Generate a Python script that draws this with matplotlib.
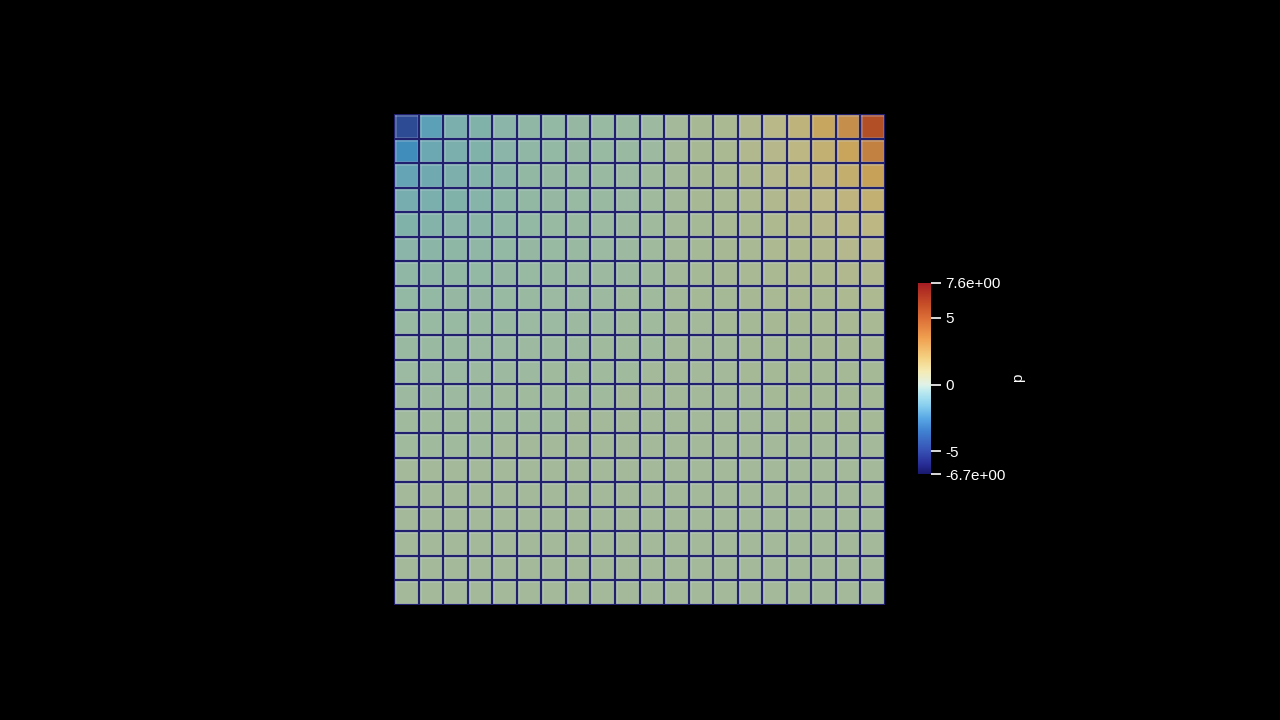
import numpy as np
import matplotlib
matplotlib.use("Agg")
import matplotlib.pyplot as plt
from matplotlib.colors import LinearSegmentedColormap, Normalize

# pressure range shown on the bar
P_MIN = -6.7
P_MAX = 7.6

# pressure per cell, top row first (20 x 20)
p_rows = [
    [-5.5, -2.6, -1.6, -1.3, -1.0, -0.7, -0.5, -0.4, -0.3, -0.2, 0.0, 0.2, 0.4, 0.6, 0.9, 1.3, 1.9, 2.8, 4.3, 7.0],
    [-3.6, -2.1, -1.6, -1.3, -1.0, -0.7, -0.5, -0.4, -0.3, -0.2, 0.0, 0.2, 0.4, 0.6, 0.9, 1.2, 1.6, 2.2, 3.0, 5.0],
    [-2.3, -1.9, -1.5, -1.2, -0.9, -0.6, -0.4, -0.3, -0.2, -0.1, 0.1, 0.2, 0.4, 0.6, 0.8, 1.1, 1.4, 1.8, 2.3, 3.2],
    [-1.7, -1.6, -1.3, -1.1, -0.8, -0.6, -0.4, -0.3, -0.2, -0.1, 0.1, 0.2, 0.4, 0.5, 0.7, 0.9, 1.2, 1.5, 1.8, 2.2],
    [-1.3, -1.2, -1.0, -0.9, -0.7, -0.5, -0.3, -0.2, -0.1, 0.0, 0.1, 0.2, 0.3, 0.5, 0.6, 0.8, 1.0, 1.2, 1.4, 1.6],
    [-1.0, -0.9, -0.8, -0.7, -0.5, -0.4, -0.3, -0.2, -0.1, 0.0, 0.1, 0.2, 0.3, 0.4, 0.5, 0.7, 0.8, 1.0, 1.1, 1.2],
    [-0.7, -0.7, -0.6, -0.5, -0.4, -0.3, -0.2, -0.1, 0.0, 0.0, 0.1, 0.2, 0.3, 0.4, 0.5, 0.6, 0.7, 0.8, 0.9, 0.9],
    [-0.5, -0.5, -0.4, -0.4, -0.3, -0.2, -0.1, -0.1, 0.0, 0.1, 0.1, 0.2, 0.3, 0.3, 0.4, 0.5, 0.6, 0.6, 0.7, 0.7],
    [-0.3, -0.3, -0.3, -0.2, -0.2, -0.1, -0.1, 0.0, 0.0, 0.1, 0.1, 0.2, 0.2, 0.3, 0.3, 0.4, 0.4, 0.5, 0.5, 0.5],
    [-0.2, -0.2, -0.2, -0.1, -0.1, 0.0, 0.0, 0.0, 0.1, 0.1, 0.1, 0.2, 0.2, 0.2, 0.3, 0.3, 0.3, 0.4, 0.4, 0.4],
    [-0.1, -0.1, -0.1, 0.0, 0.0, 0.0, 0.1, 0.1, 0.1, 0.1, 0.2, 0.2, 0.2, 0.2, 0.3, 0.3, 0.3, 0.3, 0.3, 0.3],
    [0.0, 0.0, 0.0, 0.0, 0.1, 0.1, 0.1, 0.1, 0.1, 0.2, 0.2, 0.2, 0.2, 0.2, 0.2, 0.3, 0.3, 0.3, 0.3, 0.3],
    [0.1, 0.1, 0.1, 0.1, 0.1, 0.1, 0.1, 0.2, 0.2, 0.2, 0.2, 0.2, 0.2, 0.2, 0.2, 0.2, 0.3, 0.3, 0.3, 0.3],
    [0.1, 0.1, 0.1, 0.1, 0.2, 0.2, 0.2, 0.2, 0.2, 0.2, 0.2, 0.2, 0.2, 0.2, 0.2, 0.2, 0.2, 0.2, 0.2, 0.2],
    [0.2, 0.2, 0.2, 0.2, 0.2, 0.2, 0.2, 0.2, 0.2, 0.2, 0.2, 0.2, 0.2, 0.2, 0.2, 0.2, 0.2, 0.2, 0.2, 0.2],
    [0.2, 0.2, 0.2, 0.2, 0.2, 0.2, 0.2, 0.2, 0.2, 0.2, 0.2, 0.2, 0.2, 0.2, 0.2, 0.2, 0.2, 0.2, 0.2, 0.2],
    [0.2, 0.2, 0.2, 0.2, 0.2, 0.2, 0.2, 0.2, 0.2, 0.2, 0.2, 0.2, 0.2, 0.2, 0.2, 0.2, 0.2, 0.2, 0.2, 0.2],
    [0.2, 0.2, 0.2, 0.2, 0.2, 0.2, 0.2, 0.2, 0.2, 0.2, 0.2, 0.2, 0.2, 0.2, 0.2, 0.2, 0.2, 0.2, 0.2, 0.2],
    [0.2, 0.2, 0.2, 0.2, 0.2, 0.2, 0.2, 0.2, 0.2, 0.2, 0.2, 0.2, 0.2, 0.2, 0.2, 0.2, 0.2, 0.2, 0.2, 0.2],
    [0.2, 0.2, 0.2, 0.2, 0.2, 0.2, 0.2, 0.2, 0.2, 0.2, 0.2, 0.2, 0.2, 0.2, 0.2, 0.2, 0.2, 0.2, 0.2, 0.2],
]

bar_ticks = [-6.7, -5, 0, 5, 7.6]
bar_tick_labels = ["-6.7e+00", "-5", "0", "5", "7.6e+00"]

# colour stops (value, rgb) for the bar
BAR_STOPS = [
    (-6.7, (25, 25, 110)), (-6.0, (40, 45, 150)), (-5.0, (55, 80, 180)),
    (-3.5, (65, 130, 210)), (-2.5, (90, 170, 230)), (-1.5, (140, 210, 240)),
    (-0.5, (190, 235, 240)), (0.0, (225, 243, 232)), (1.0, (245, 235, 180)),
    (2.0, (245, 210, 130)), (3.5, (240, 160, 80)), (5.0, (220, 110, 55)),
    (6.0, (200, 80, 40)), (7.6, (165, 30, 35)),
]
# the cells are rendered with shading, so they look duller
CELL_STOPS = [
    (-6.7, (30, 40, 120)), (-5.5, (45, 75, 150)), (-3.5, (65, 145, 190)),
    (-2.5, (95, 162, 182)), (-1.5, (125, 176, 172)), (-0.8, (142, 183, 166)),
    (0.0, (158, 186, 160)), (0.3, (165, 185, 150)), (1.5, (188, 184, 135)),
    (3.0, (200, 165, 90)), (5.0, (195, 130, 65)), (7.6, (175, 65, 30)),
]


def make_cmap(name, stops):
    pts = [((v - P_MIN) / (P_MAX - P_MIN), tuple(c / 255 for c in rgb)) for v, rgb in stops]
    return LinearSegmentedColormap.from_list(name, pts)


bar_cmap = make_cmap("bar", BAR_STOPS)
cell_cmap = make_cmap("cell", CELL_STOPS)
norm = Normalize(P_MIN, P_MAX)

fig = plt.figure(figsize=(12.8, 7.2), dpi=100, facecolor="black")

# mesh
ax = fig.add_axes([394 / 1280, 1 - 605 / 720, 491 / 1280, 491 / 720])
ax.set_facecolor("black")
p = np.array(p_rows)[::-1]
ax.pcolormesh(np.arange(21), np.arange(21), p, cmap=cell_cmap, norm=norm)
# cell edges: soft light halo under a dark navy line
edges = np.arange(21)
ax.vlines(edges, 0, 20, color="#c8d6e0", alpha=0.3, linewidth=3.4)
ax.hlines(edges, 0, 20, color="#c8d6e0", alpha=0.3, linewidth=3.4)
ax.vlines(edges, 0, 20, color="#20206e", linewidth=1.6)
ax.hlines(edges, 0, 20, color="#20206e", linewidth=1.6)
ax.set_xlim(0, 20)
ax.set_ylim(0, 20)
ax.axis("off")

# colour bar
cax = fig.add_axes([918 / 1280, 1 - 474 / 720, 13 / 1280, 191 / 720])
grad = np.linspace(P_MIN, P_MAX, 256).reshape(-1, 1)
cax.imshow(grad, aspect="auto", origin="lower", cmap=bar_cmap, norm=norm,
           extent=[0, 1, P_MIN, P_MAX])
cax.set_xlim(0, 1)
cax.set_ylim(P_MIN, P_MAX)
for s in cax.spines.values():
    s.set_visible(False)
cax.set_xticks([])
cax.yaxis.tick_right()
cax.set_yticks(bar_ticks)
cax.set_yticklabels(bar_tick_labels)
cax.tick_params(axis="y", colors="white", length=7, width=1.2, pad=3,
                labelsize=11, direction="out")
for lbl in cax.get_yticklabels():
    lbl.set_fontfamily("Liberation Sans")
    lbl.set_color("white")

fig.text(1018 / 1280, 1 - 378 / 720, "p", color="white", rotation=90,
         ha="center", va="center", fontsize=11, fontfamily="Liberation Sans")

fig.savefig("out.png", dpi=100, facecolor="black")
